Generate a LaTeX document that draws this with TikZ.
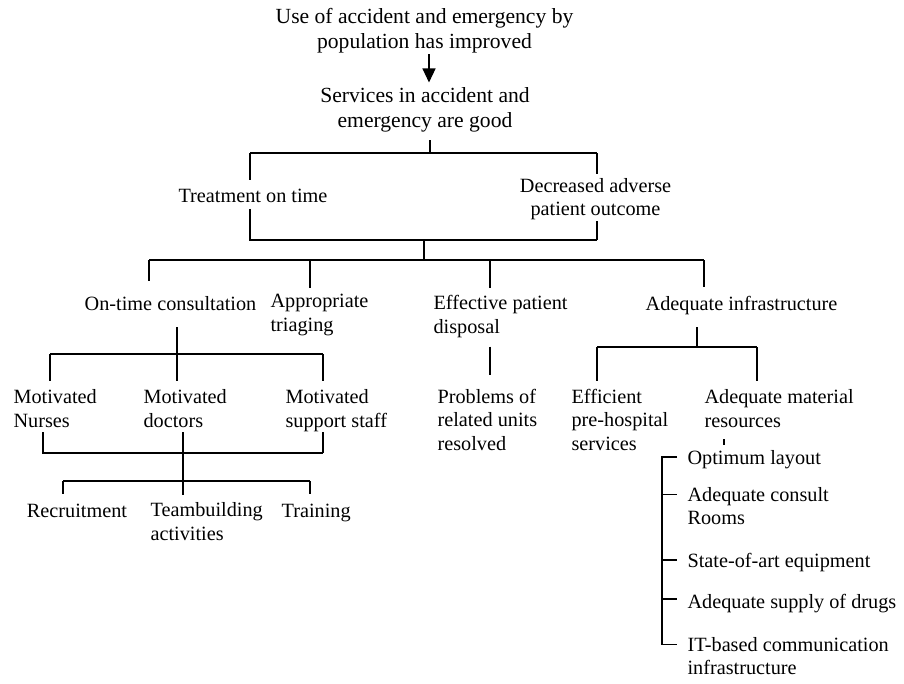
\documentclass[tikz,border=0pt]{standalone}
\usepackage{fontspec}
\setmainfont{Liberation Serif}
\usetikzlibrary{arrows.meta}

\begin{document}
\begin{tikzpicture}[x=1pt,y=-1pt,line width=1.2pt,
  every node/.style={inner sep=0pt,font=\fontsize{20.25}{23.5}\selectfont,
    execute at begin node=\strut,execute at end node=\strut},%hauteur de ligne constante
  topbox/.style={align=center,font=\fontsize{21.6}{24.5}\selectfont},%les deux premiers niveaux
  midbox/.style={align=center},
  leftbox/.style={align=left,anchor=west}]%texte aligne a gauche
\useasboundingbox (0,0) rectangle (904,683);

\node (use) at (424.5,32) [topbox] {Use of accident and emergency by\\population has improved};
\node (serv) at (425,111) [topbox] {Services in accident and\\emergency are good};

\node (treat) at (253,198) {Treatment on time};
\node (adverse) at (595.5,200.5) [midbox] {Decreased adverse\\patient outcome};

\node (consult) at (170.5,306) {On-time consultation};
\node (triage) at (270,316.5) [leftbox] {Appropriate\\triaging};
\node (dispos) at (433,318) [leftbox] {Effective patient\\disposal};
\node (infra) at (741.5,306) {Adequate infrastructure};

\node (nurses) at (13,412) [leftbox] {Motivated\\Nurses};
\node (doctors) at (143,412) [leftbox] {Motivated\\doctors};
\node (staff) at (285,412) [leftbox] {Motivated\\support staff};

\node (recruit) at (77,513) {Recruitment};
\node (team) at (150,525) [leftbox] {Teambuilding\\activities};
\node (train) at (281,513) [leftbox] {Training};

\node (units) at (437,423) [leftbox] {Problems of\\related units\\resolved};
\node (prehosp) at (571,423) [leftbox] {Efficient\\pre-hospital\\services};
\node (material) at (704,412) [leftbox] {Adequate material\\resources};

\node (layout) at (687,460) [leftbox] {Optimum layout};
\node (rooms) at (687,509.5) [leftbox] {Adequate consult\\Rooms};
\node (equip) at (687,563) [leftbox] {State-of-art equipment};
\node (drugs) at (687,604) [leftbox] {Adequate supply of drugs};
\node (itcom) at (687,659.5) [leftbox] {IT-based communication\\infrastructure};

% fleche du haut
\coordinate (ar) at (429,0);
\draw[-{Triangle[width=13pt,length=14pt]},shorten <=-2pt,shorten >=4.5pt] (use.south -| ar) -- (serv.north -| ar);

% 1ere ramification
\coordinate (a0) at (430,153);
\coordinate (aL) at (250,153);
\coordinate (aR) at (597,153);
\draw[shorten <=5pt] (serv.south -| a0) -- (a0);
\draw (aL) -- (aR);
\draw[shorten >=6pt] (aL) -- (treat.north -| aL);
\draw[shorten >=4pt] (aR) -- (adverse.north -| aR);

\coordinate (bL) at (250,240);
\coordinate (bR) at (597,240);
\coordinate (b0) at (424,240);
\coordinate (c0) at (424,260);
\draw[shorten <=-1.5pt] (treat.south -| bL) -- (bL) -- (bR);
\draw[shorten <=-2pt] (adverse.south -| bR) -- (bR);
\draw (b0) -- (c0);

% 2eme ramification
\coordinate (cL) at (149,260);
\coordinate (cA) at (310,260);
\coordinate (cE) at (490,260);
\coordinate (cR) at (704,260);
\draw (cL) -- (cR);
\draw[shorten >=13pt] (cL) -- (consult.north -| cL);
\draw[shorten >=6pt] (cA) -- (triage.north -| cA);
\draw[shorten >=7pt] (cE) -- (dispos.north -| cE);
\draw[shorten >=7pt] (cR) -- (infra.north -| cR);

% consultation
\coordinate (d0) at (177,354);
\coordinate (dL) at (50,354);
\coordinate (dR) at (323,354);
\draw[shorten <=9pt,shorten >=8pt] (consult.south -| d0) -- (doctors.north -| d0);
\draw (dL) -- (dR);
\draw[shorten >=8pt] (dL) -- (nurses.north -| dL);
\draw[shorten >=8pt] (dR) -- (staff.north -| dR);

\coordinate (eL) at (43,453);
\coordinate (eR) at (323,453);
\coordinate (f0) at (183,481);
\coordinate (fL) at (63,481);
\coordinate (fR) at (310,481);
\draw[shorten <=-2.5pt] (nurses.south -| eL) -- (eL) -- (eR);
\draw[shorten <=-2.5pt] (staff.south -| eR) -- (eR);
\draw[shorten <=-2.5pt,shorten >=7.5pt] (doctors.south -| f0) -- (team.north -| f0);
\draw (fL) -- (fR);
\draw[shorten >=7pt] (fL) -- (recruit.north -| fL);
\draw[shorten >=7pt] (fR) -- (train.north -| fR);

% patient disposal
\coordinate (g0) at (490,0);
\draw[shorten <=5.5pt,shorten >=13.5pt] (dispos.south -| g0) -- (units.north -| g0);

% infrastructure
\coordinate (h0) at (697,347);
\coordinate (hL) at (597,347);
\coordinate (hR) at (757,347);
\draw[shorten <=9pt] (infra.south -| h0) -- (h0);
\draw (hL) -- (hR);
\draw[shorten >=7.5pt] (hL) -- (prehosp.north -| hL);
\draw[shorten >=8pt] (hR) -- (material.north -| hR);

% ressources materielles
\coordinate (k0) at (724,0);
\draw (material.south -| k0) ++(0,4.5) -- ++(0,6);
\coordinate (m0) at (662,0);
\path (layout.west) ++(0,-3) coordinate (layoutT);
\path (rooms.west) ++(0,-14.75) coordinate (roomsT);
\path (equip.west) ++(0,-3) coordinate (equipT);
\path (drugs.west) ++(0,-5) coordinate (drugsT);
\path (itcom.west) ++(0,-14.75) coordinate (itT);
\draw ([xshift=-10pt]layoutT) -- (layoutT -| m0) -- (itT -| m0) -- ([xshift=-10pt]itT);
\foreach \n in {roomsT,equipT,drugsT}
  \draw (\n -| m0) -- ([xshift=-10pt]\n);

\end{tikzpicture}
\end{document}
